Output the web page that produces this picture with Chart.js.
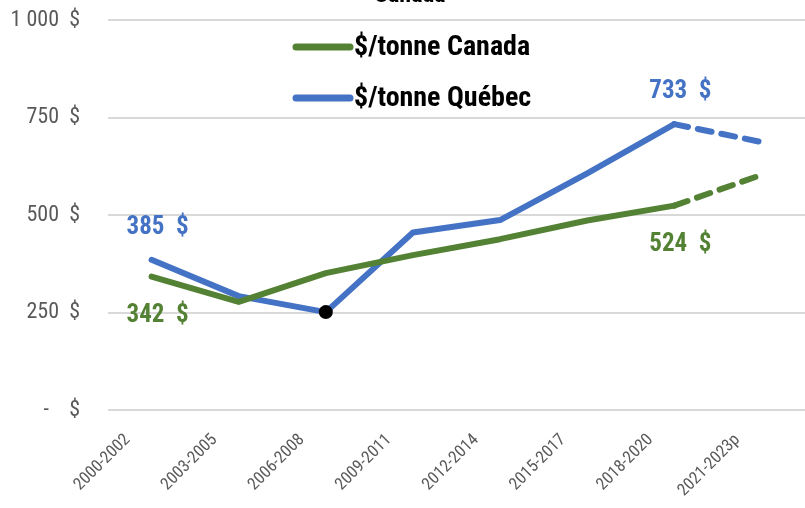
<!DOCTYPE html>
<html>
<head>
<meta charset="utf-8">
<script src="https://cdn.jsdelivr.net/npm/chart.js@4/dist/chart.umd.min.js"></script>
<style>
  html, body { margin: 0; padding: 0; background: #fff; }
  #wrap { position: relative; width: 805px; height: 508px; }
</style>
</head>
<body>
<div id="wrap"><canvas id="chart" width="805" height="508"></canvas></div>
<script>
const periods = ['2000-2002', '2003-2005', '2006-2008', '2009-2011', '2012-2014', '2015-2017', '2018-2020', '2021-2023p'];
const canada = [342, 277, 351, 397, 438, 486, 524, 603];
const quebec = [385, 292, 251, 455, 487, 607, 733, 687];
const yTicks = [0, 250, 500, 750, 1000];
// points that get a value label, and the one highlighted with a dot
const canadaLabelled = [0, 6];
const quebecLabelled = [0, 6];
const quebecDot = 2;

const GREEN = '#548235';
const BLUE = '#4472C4';
const NARROW = '"Roboto Condensed", "DejaVu Sans Condensed", sans-serif';

function money(v) {
    if (v === 0) return '-    $';
    return String(Math.round(v)).replace(/\B(?=(\d{3})+(?!\d))/g, ' ') + '  $';
}

const dash = ctx => ctx.p1DataIndex === periods.length - 1 ? [14, 10] : undefined;

// title is cut off by the top edge in the original
const titlePlugin = {
    id: 'cutTitle',
    afterDraw(chart) {
        const ctx = chart.ctx;
        ctx.save();
        ctx.font = 'bold 24px ' + NARROW;
        ctx.fillStyle = '#000';
        ctx.textAlign = 'center';
        ctx.textBaseline = 'alphabetic';
        ctx.fillText('Canada', 410, 2);
        ctx.restore();
    }
};

// legend drawn inside the plot, two rows
const legendPlugin = {
    id: 'innerLegend',
    afterDraw(chart) {
        const ctx = chart.ctx;
        ctx.save();
        ctx.font = 'bold 28px ' + NARROW;
        ctx.textBaseline = 'middle';
        ctx.textAlign = 'left';
        chart.data.datasets.forEach((ds, i) => {
            const y = 47 + i * 51;
            ctx.strokeStyle = ds.borderColor;
            ctx.lineWidth = 7;
            ctx.lineCap = 'round';
            ctx.beginPath();
            ctx.moveTo(296, y);
            ctx.lineTo(350, y);
            ctx.stroke();
            ctx.fillStyle = '#000';
            ctx.fillText(ds.label, 354, y + 1);
        });
        ctx.restore();
    }
};

// value labels next to selected points
const valuePlugin = {
    id: 'valueLabels',
    afterDatasetsDraw(chart) {
        const ctx = chart.ctx;
        ctx.save();
        ctx.font = 'bold 25px ' + NARROW;
        ctx.textAlign = 'center';
        ctx.textBaseline = 'middle';
        chart.data.datasets.forEach((ds, i) => {
            const meta = chart.getDatasetMeta(i);
            ds.labelled.forEach(idx => {
                const pt = meta.data[idx];
                ctx.fillStyle = ds.borderColor;
                ctx.fillText(money(ds.data[idx]), pt.x + 6, pt.y + ds.labelShift);
            });
        });
        ctx.restore();
    }
};

const ctx = document.getElementById('chart').getContext('2d');
new Chart(ctx, {
    type: 'line',
    data: {
        labels: periods,
        datasets: [{
            label: '$/tonne Canada',
            data: canada,
            borderColor: GREEN,
            backgroundColor: GREEN,
            borderWidth: 6,
            pointRadius: 0,
            labelled: canadaLabelled,
            labelShift: 39,
            segment: { borderDash: dash }
        }, {
            label: '$/tonne Québec',
            data: quebec,
            borderColor: BLUE,
            backgroundColor: BLUE,
            borderWidth: 6,
            pointRadius: quebec.map((v, i) => i === quebecDot ? 7 : 0),
            pointBackgroundColor: '#000',
            pointBorderWidth: 0,
            labelled: quebecLabelled,
            labelShift: -32,
            segment: { borderDash: dash }
        }]
    },
    options: {
        responsive: false,
        animation: false,
        elements: { line: { borderCapStyle: 'round', borderJoinStyle: 'round', tension: 0 } },
        layout: { padding: 0 },
        plugins: {
            legend: { display: false },
            title: { display: false },
            tooltip: { enabled: false }
        },
        scales: {
            x: {
                offset: true,
                grid: { display: false },
                border: { display: false },
                ticks: {
                    color: '#595959',
                    font: { family: NARROW, size: 17 },
                    maxRotation: 45,
                    minRotation: 45,
                    labelOffset: -24,
                    padding: 12,
                    autoSkip: false
                },
                afterFit(s) { s.height = 98; }
            },
            y: {
                min: 0,
                max: 1000,
                afterBuildTicks(s) { s.ticks = yTicks.map(v => ({ value: v })); },
                grid: { color: '#d9d9d9', lineWidth: 2, drawTicks: false },
                border: { display: false },
                ticks: {
                    color: '#595959',
                    font: { family: NARROW, size: 22 },
                    padding: 28,
                    callback: v => money(v)
                },
                afterFit(s) {
                    s.width = 108;
                    s.paddingTop = 20;
                    s.paddingBottom = 0;
                }
            }
        }
    },
    plugins: [titlePlugin, legendPlugin, valuePlugin]
});
</script>
</body>
</html>
